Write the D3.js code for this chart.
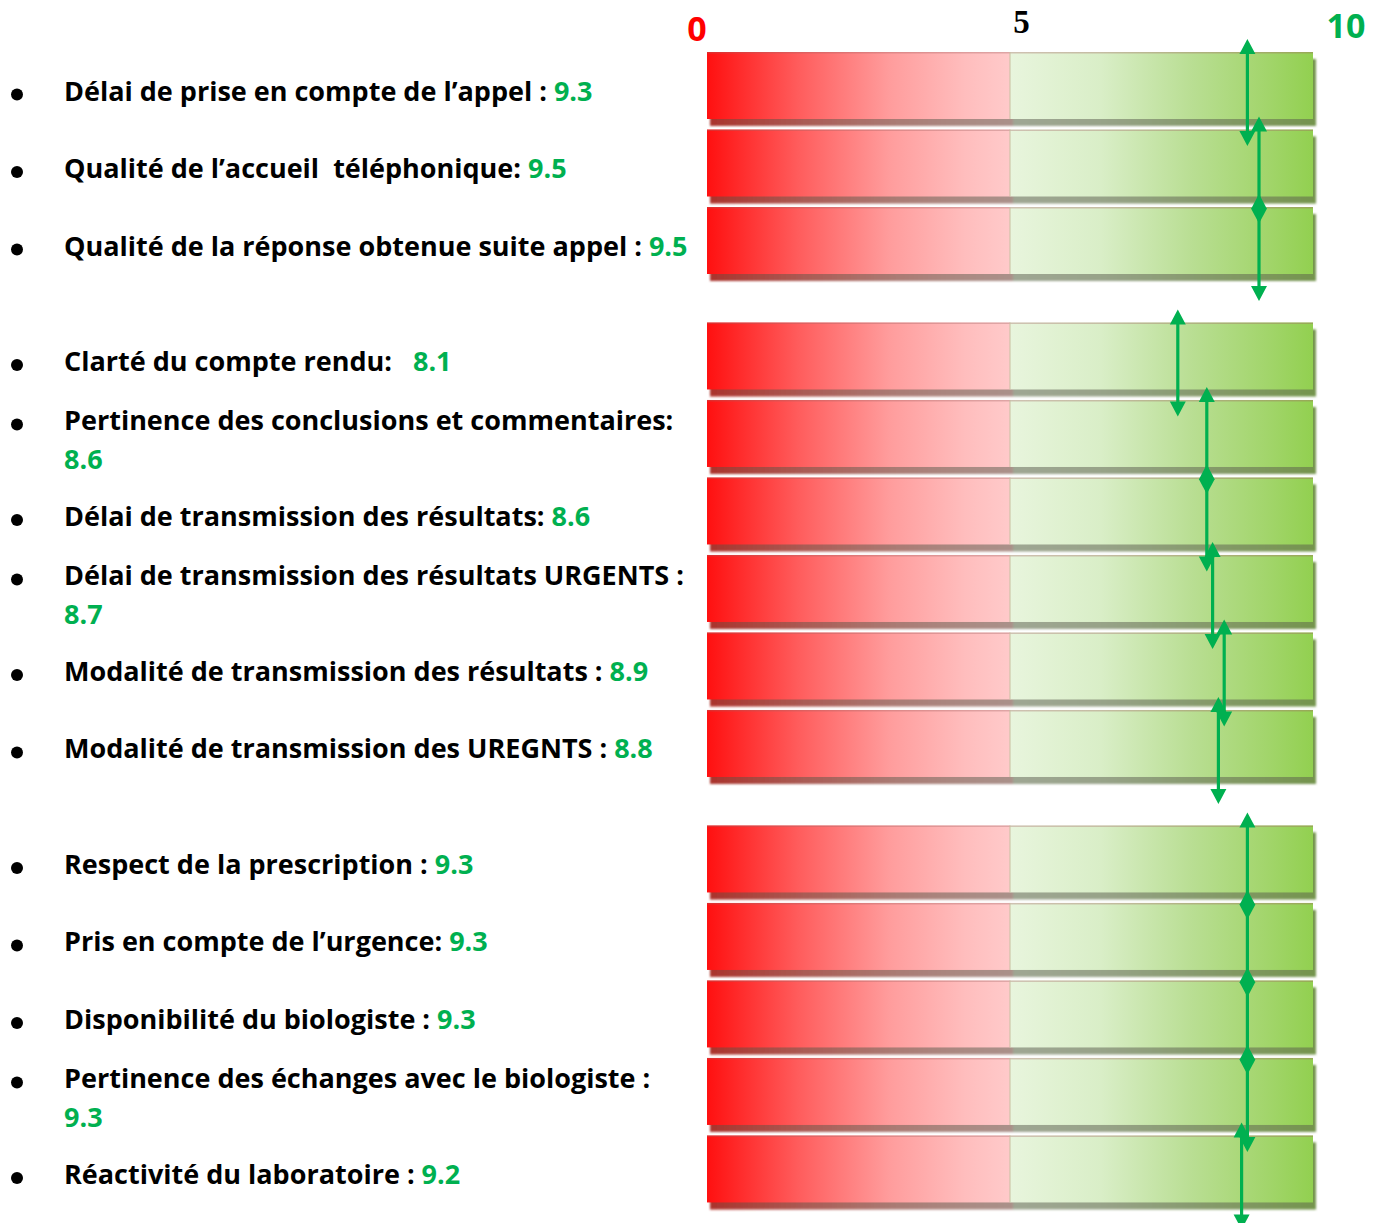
<!DOCTYPE html>
<html>
<head>
<meta charset="utf-8">
<script src="https://cdn.jsdelivr.net/npm/d3@7"></script>
<style>
  body { margin: 0; background: #fff; }
  svg { display: block; }
  text { white-space: pre; }
</style>
</head>
<body>
<div id="chart"></div>
<script>
// survey items, one per gauge
const labels = [
  'Délai de prise en compte de l’appel : ',
  'Qualité de l’accueil  téléphonique: ',
  'Qualité de la réponse obtenue suite appel : ',
  'Clarté du compte rendu:   ',
  'Pertinence des conclusions et commentaires:\n',
  'Délai de transmission des résultats: ',
  'Délai de transmission des résultats URGENTS :\n',
  'Modalité de transmission des résultats : ',
  'Modalité de transmission des UREGNTS : ',
  'Respect de la prescription : ',
  'Pris en compte de l’urgence: ',
  'Disponibilité du biologiste : ',
  'Pertinence des échanges avec le biologiste :\n',
  'Réactivité du laboratoire : '
];
const scores = [9.3, 9.5, 9.5, 8.1, 8.6, 8.6, 8.7, 8.9, 8.8, 9.3, 9.3, 9.3, 9.3, 9.2];
const groups = [0, 0, 0, 1, 1, 1, 1, 1, 1, 2, 2, 2, 2, 2];
const tickValues = [0, 5, 10];

const width = 1377;
const height = 1223;
const barH = 67;
const green = '#00b050';

const svg = d3.select('#chart')
  .append('svg')
  .attr('width', width)
  .attr('height', height);

const rows = labels.map((label, i) => ({
  label: label,
  score: scores[i],
  slot: i + groups[i] * 0.49
}));

// gauge background, score arrows and tick labels
const gaugeX = d3.scaleLinear().domain([0, 10]).range([707, 1313]);
const scoreX = d3.scaleLinear().domain([0, 10]).range([708, 1288]);
const tickX = d3.scaleLinear().domain([0, 10]).range([697, 1346]);
const y = d3.scaleLinear().domain([0, 1]).range([52, 129.5]);
const fmt = d3.format('.1f');

const defs = svg.append('defs');
const redGrad = defs.append('linearGradient').attr('id', 'red');
[[0, '#ff1010'], [0.3, '#ff5c5c'], [0.6, '#ff9c9c'], [0.85, '#ffbdbd'], [1, '#ffcaca']]
  .forEach(s => redGrad.append('stop').attr('offset', s[0]).attr('stop-color', s[1]));
const greenGrad = defs.append('linearGradient').attr('id', 'green');
[[0, '#e8f5dd'], [0.3, '#d9eec7'], [0.6, '#b9de93'], [0.85, '#a2d56b'], [1, '#92d050']]
  .forEach(s => greenGrad.append('stop').attr('offset', s[0]).attr('stop-color', s[1]));
defs.append('filter').attr('id', 'soft')
  .append('feGaussianBlur').attr('stdDeviation', 0.8);

const gauge = svg.selectAll('.gauge')
  .data(rows)
  .enter().append('g')
  .attr('class', 'gauge')
  .attr('transform', d => `translate(0,${y(d.slot)})`);

// shadow
const shadow = gauge.append('g')
  .attr('transform', 'translate(3,7)')
  .attr('filter', 'url(#soft)');
shadow.append('rect')
  .attr('x', gaugeX(0)).attr('width', gaugeX(5) - gaugeX(0))
  .attr('height', barH).attr('fill', 'url(#red)');
shadow.append('rect')
  .attr('x', gaugeX(5)).attr('width', gaugeX(10) - gaugeX(5))
  .attr('height', barH).attr('fill', 'url(#green)');
shadow.append('rect')
  .attr('x', gaugeX(0)).attr('width', gaugeX(10) - gaugeX(0))
  .attr('height', barH).attr('fill', '#55574a').attr('opacity', 0.5);

gauge.append('rect')
  .attr('x', gaugeX(0)).attr('width', gaugeX(5) - gaugeX(0))
  .attr('height', barH).attr('fill', 'url(#red)');
gauge.append('rect')
  .attr('x', gaugeX(5)).attr('width', gaugeX(10) - gaugeX(5))
  .attr('height', barH).attr('fill', 'url(#green)');
gauge.append('rect')
  .attr('x', gaugeX(0)).attr('width', gaugeX(10) - gaugeX(0))
  .attr('height', 1.5).attr('fill', '#a06060').attr('opacity', 0.35);
gauge.append('rect')
  .attr('x', gaugeX(5) - 1).attr('width', 2)
  .attr('height', barH).attr('fill', '#c8c0a0').attr('opacity', 0.5);

// tick labels above the gauges
svg.selectAll('.tick')
  .data(tickValues)
  .enter().append('text')
  .attr('class', 'tick')
  .attr('x', d => tickX(d))
  .attr('y', d => d === 5 ? 33 : (d === 0 ? 41 : 38))
  .attr('text-anchor', 'middle')
  .style('font-family', d => d === 5 ? 'Liberation Serif, serif' : 'Open Sans, sans-serif')
  .style('font-weight', 'bold')
  .style('font-size', d => d === 5 ? '33px' : '34px')
  .style('fill', d => d === 0 ? '#ff0000' : (d === 5 ? '#000' : green))
  .text(d => d);

// item labels
const item = svg.selectAll('.item')
  .data(rows)
  .enter().append('g')
  .attr('class', 'item')
  .attr('transform', d => {
    const twoLines = d.label.includes('\n');
    return `translate(0,${y(d.slot) + barH / 2 + (twoLines ? -3 : 15)})`;
  });

item.append('circle')
  .attr('cx', 17).attr('cy', -6).attr('r', 6)
  .attr('fill', '#000');

const label = item.append('text')
  .attr('x', 64)
  .style('font-family', 'Open Sans, sans-serif')
  .style('font-weight', 'bold')
  .style('font-size', '27px');

label.each(function (d) {
  const t = d3.select(this);
  const parts = d.label.split('\n');
  t.append('tspan').attr('fill', '#000').text(parts[0]);
  if (parts.length > 1) {
    t.append('tspan').attr('x', 64).attr('dy', 39).attr('fill', green).text(fmt(d.score));
  } else {
    t.append('tspan').attr('fill', green).text(fmt(d.score));
  }
});

// score arrows, drawn above every gauge
const arrow = svg.selectAll('.arrow')
  .data(rows)
  .enter().append('g')
  .attr('class', 'arrow')
  .attr('transform', d => `translate(${scoreX(d.score)},${y(d.slot)})`);
const arrowTop = -13;
const arrowBottom = barH + 27;
const headH = 15;
const headW = 8;
arrow.append('line')
  .attr('y1', arrowTop + headH - 1).attr('y2', arrowBottom - headH + 1)
  .attr('stroke', green).attr('stroke-width', 3.2);
arrow.append('path')
  .attr('d', `M0,${arrowTop}L${headW},${arrowTop + headH}L${-headW},${arrowTop + headH}Z`)
  .attr('fill', green);
arrow.append('path')
  .attr('d', `M0,${arrowBottom}L${headW},${arrowBottom - headH}L${-headW},${arrowBottom - headH}Z`)
  .attr('fill', green);
</script>
</body>
</html>
